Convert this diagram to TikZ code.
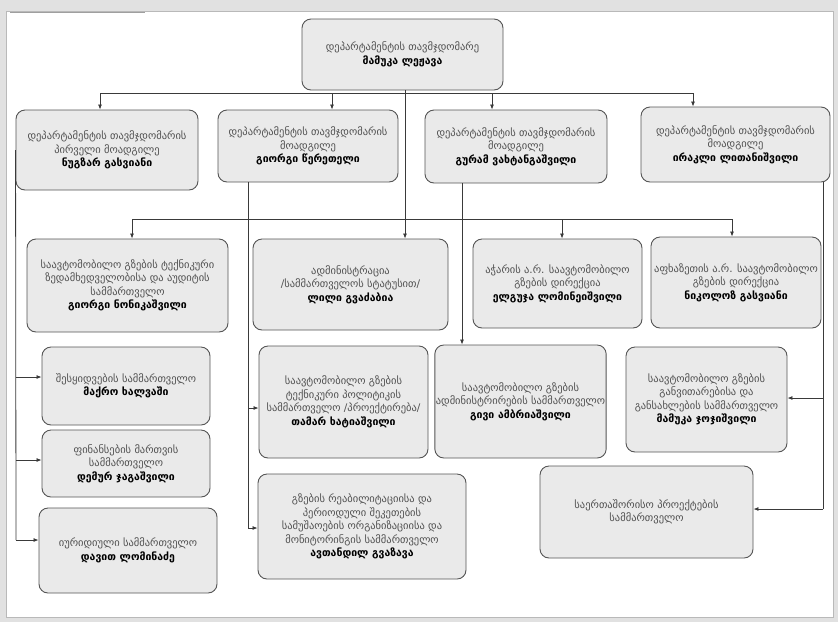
\documentclass[tikz,border=0pt]{standalone}
\usepackage{fontspec}
\setmainfont{DejaVu Sans}
\usetikzlibrary{arrows.meta}
\definecolor{bgray}{HTML}{E1E1E1}
\definecolor{boxfill}{HTML}{EAEAEA}
\definecolor{boxline}{HTML}{555555}
\definecolor{txt}{HTML}{505050}
\definecolor{conn}{HTML}{3A3A3A}
\newcommand{\nm}[1]{{\bfseries\color{black}#1}}
\tikzset{
  orgbox/.style={draw=boxline, fill=boxfill, rounded corners=9pt, line width=0.9pt,
    align=center, inner sep=1pt, text=txt, font=\fontsize{10.5}{13.5}\selectfont},
  wh/.style 2 args={minimum width=#1pt, minimum height=#2pt},
  link/.style={draw=conn, line width=0.8pt},
  arr/.style={link, -{Latex[length=5pt,width=4pt]}},
}
\begin{document}
\begin{tikzpicture}[x=1pt,y=-1pt]
\useasboundingbox (0,0) rectangle (838,622);
\fill[bgray] (0,0) rectangle (838,622);
\draw[fill=white, draw=gray!55] (6,11) rectangle (833,617);
\draw[gray!75, line width=0.8pt] (10,12) -- (145,12);

% nodes
\node[orgbox, wh={201}{71}] (chair) at (402.5,54.5) {დეპარტამენტის თავმჯდომარე\\\nm{მამუკა ლეჟავა}};
\node[orgbox, wh={182}{80}] (dep1) at (107,150) {დეპარტამენტის თავმჯდომარის\\პირველი მოადგილე\\\nm{ნუგზარ გასვიანი}};
\node[orgbox, wh={180}{72}] (dep2) at (308,146) {დეპარტამენტის თავმჯდომარის\\მოადგილე\\\nm{გიორგი წერეთელი}};
\node[orgbox, wh={182}{73}] (dep3) at (516,146.5) {დეპარტამენტის თავმჯდომარის\\მოადგილე\\\nm{გურამ ვახტანგაშვილი}};
\node[orgbox, wh={189}{75}] (dep4) at (735.5,144.5) {დეპარტამენტის თავმჯდომარის\\მოადგილე\\\nm{ირაკლი ლითანიშვილი}};

\node[orgbox, wh={201}{93}] (A) at (127.5,285.5) {საავტომობილო გზების ტექნიკური\\ზედამხედველობისა და აუდიტის\\სამმართველო\\\nm{გიორგი ნონიკაშვილი}};
\node[orgbox, wh={195}{91}] (B) at (350.5,284.5) {ადმინისტრაცია\\/სამმართველოს სტატუსით/\\\nm{ლილი გვაძაბია}};
\node[orgbox, wh={169}{89}] (C) at (557.5,283.5) {აჭარის ა.რ. საავტომობილო\\გზების დირექცია\\\nm{ელგუჯა ლომინეიშვილი}};
\node[orgbox, wh={170}{91}] (D) at (736,282.5) {აფხაზეთის ა.რ. საავტომობილო\\გზების დირექცია\\\nm{ნიკოლოზ გასვიანი}};

\node[orgbox, wh={168}{78}] (proc) at (126,386) {შესყიდვების სამმართველო\\\nm{მაქრო ხალვაში}};
\node[orgbox, wh={168}{67}] (fin) at (126,463.5) {ფინანსების მართვის\\სამმართველო\\\nm{დემურ ჯაგაშვილი}};
\node[orgbox, wh={178}{85}] (legal) at (128,550.5) {იურიდიული სამმართველო\\\nm{დავით ლომინაძე}};

\node[orgbox, wh={169}{112}] (tamar) at (343.5,402) {საავტომობილო გზების\\ტექნიკური პოლიტიკის\\სამმართველო /პროექტირება/\\\nm{თამარ ხატიაშვილი}};
\node[orgbox, wh={169}{113}] (givi) at (520.5,401.5) {საავტომობილო გზების\\ადმინისტრირების სამმართველო\\\nm{გივი ამბრიაშვილი}};
\node[orgbox, wh={161}{105}] (mamj) at (706.5,399.5) {საავტომობილო გზების\\განვითარებისა და\\განსახლების სამმართველო\\\nm{მამუკა ჯოჯიშვილი}};
\node[orgbox, wh={208}{105}] (avt) at (362,526.5) {გზების რეაბილიტაციისა და\\პერიოდული შეკეთების\\სამუშაოების ორგანიზაციისა და\\მონიტორინგის სამმართველო\\\nm{ავთანდილ გვაზავა}};
\node[orgbox, wh={213}{92}] (intl) at (646.5,512) {საერთაშორისო პროექტების\\სამმართველო};

% coordinates
\coordinate (j1) at (405,93);
\coordinate (j2) at (405,219);
\coordinate (b1L) at (100,93);
\coordinate (b1a) at (332,93);
\coordinate (b1b) at (492,93);
\coordinate (b1R) at (693,93);
\coordinate (b2L) at (132,219);
\coordinate (b2a) at (562,219);
\coordinate (b2R) at (732,219);
\coordinate (g1) at (248,408);
\coordinate (g2) at (248,528);
\coordinate (u) at (462,300);
\coordinate (r1) at (823,398);
\coordinate (r2) at (823,509);
\coordinate (n1) at (16,377);
\coordinate (n2) at (16,460);
\coordinate (n3) at (16,540);

% chairman
\draw[link] (chair.south -| j1) -- (j2);
\draw[link] (b1L) -- (b1R);
\draw[arr] (b1L) -- (b1L |- dep1.north);
\draw[arr] (b1a) -- (b1a |- dep2.north);
\draw[arr] (b1b) -- (b1b |- dep3.north);
\draw[arr] (b1R) -- (b1R |- dep4.north);
\draw[link] (b2L) -- (b2R);
\draw[arr] (b2L) -- (b2L |- A.north);
\draw[arr] (j2) -- (j2 |- B.north);
\draw[arr] (b2a) -- (b2a |- C.north);
\draw[arr] (b2R) -- (b2R |- D.north);

% first deputy
\draw[link] (dep1.west) -- (n3);
\draw[arr] (n1) -- (n1 -| proc.west);
\draw[arr] (n2) -- (n2 -| fin.west);
\draw[arr] (n3) -- (n3 -| legal.west);

% deputy 2
\draw[link] (dep2.south -| g2) -- (g2);
\draw[arr] (g1) -- (g1 -| tamar.west);
\draw[arr] (g2) -- (g2 -| avt.west);

% deputy 3
\draw[arr] (dep3.south -| u) -- (givi.north -| u);

% deputy 4
\draw[link] (dep4.south -| r2) -- (r2);
\draw[arr] (r1) -- (r1 -| mamj.east);
\draw[arr] (r2) -- (r2 -| intl.east);
\end{tikzpicture}
\end{document}
